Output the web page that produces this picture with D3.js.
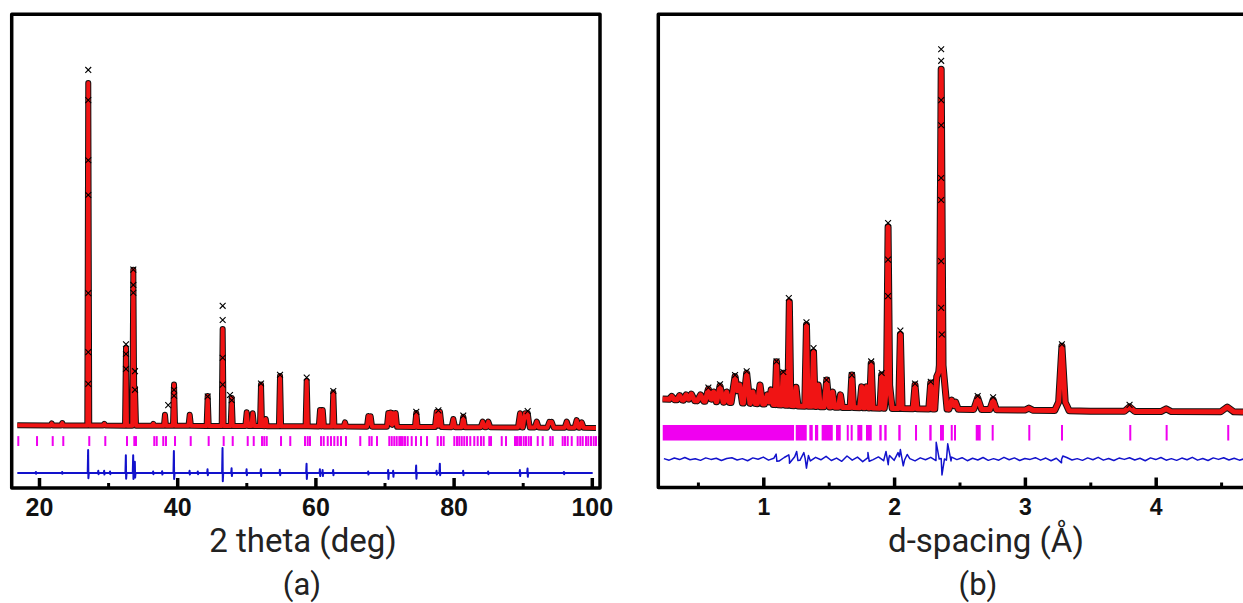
<!DOCTYPE html>
<html>
<head>
<meta charset="utf-8">
<script src="https://cdn.jsdelivr.net/npm/d3@7/dist/d3.min.js"></script>
<style>
  body { margin: 0; background: #fff; }
  svg { display: block; }
  .tick-label { font-family: "Liberation Sans", Arial, sans-serif; font-weight: bold; }
  .title { font-family: Roboto, "Open Sans", sans-serif; fill: #222; }
</style>
</head>
<body>
<svg id="chart" width="1243" height="603"></svg>
<script>
const
  RED = '#f01414',
  BLUE = '#1212cc',
  MAGENTA = '#f000f0',
  DIFF_OFFSET_A = -800,
  DIFF_OFFSET_B = -790;

// ---------- (a) 2 theta scan, intensity in counts ----------
const bgA = [[16.86, 480], [50, 460], [80, 430], [100.6, 410]];

// [2theta, calculated top, half width]
const peaksA = [
  [21.84, 530, 0.15], [23.37, 540, 0.15], [27.13, 9650, 0.14], [29.45, 520, 0.15],
  [32.59, 2550, 0.14], [33.65, 4650, 0.15], [33.89, 1480, 0.15], [36.54, 520, 0.15],
  [38.23, 760, 0.15], [39.54, 1570, 0.15], [41.81, 760, 0.18], [44.41, 1265, 0.15],
  [46.58, 3060, 0.14], [47.89, 1210, 0.15], [50.06, 830, 0.2], [50.93, 800, 0.2],
  [52.13, 1570, 0.15], [52.81, 650, 0.15], [54.88, 1800, 0.16], [58.74, 1665, 0.16],
  [60.67, 890, 0.18], [61.06, 890, 0.18], [62.59, 1360, 0.16], [64.28, 560, 0.2],
  [67.66, 730, 0.2], [68.0, 720, 0.2], [70.55, 810, 0.2], [70.9, 820, 0.2],
  [71.27, 800, 0.2], [71.62, 810, 0.2], [74.6, 810, 0.2], [77.55, 840, 0.25],
  [78.03, 840, 0.25], [79.96, 650, 0.25], [81.40, 710, 0.25], [84.21, 580, 0.3],
  [85.02, 580, 0.3], [89.61, 800, 0.3], [90.33, 800, 0.3], [90.72, 810, 0.3],
  [92.03, 580, 0.3], [93.85, 570, 0.3], [94.20, 570, 0.3], [96.37, 580, 0.3],
  [97.81, 620, 0.3], [98.54, 560, 0.3]
];

// observed points drawn as crosses, [2theta, counts]
const obsA = [
  [27.13, 10000], [27.13, 9190], [27.13, 7580], [27.13, 6650], [27.13, 4020], [27.13, 2440], [27.13, 1590],
  [32.59, 2650], [32.59, 2390], [32.59, 1990],
  [33.65, 4650], [33.65, 4240], [33.65, 4030], [33.89, 1930], [33.89, 1430],
  [38.7, 1020], [39.54, 1430], [39.54, 1270], [44.41, 1250],
  [46.58, 3680], [46.58, 3300], [46.58, 2290], [46.58, 1570],
  [47.64, 1290], [47.89, 1150], [52.13, 1600], [54.88, 1830], [58.74, 1760],
  [62.59, 1400], [74.6, 840], [77.8, 880], [81.4, 740], [90.72, 860]
];

// reflection positions (2theta)
const reflA = [
  16.86, 19.57, 21.84, 23.37, 27.13, 29.45, 32.59, 33.65, 33.89, 36.54, 36.89, 37.84, 38.23,
  39.54, 41.81, 44.41, 46.58, 47.89, 50.06, 50.93, 52.13, 52.46, 52.81, 54.88, 56.22, 58.35,
  58.74, 59.07, 60.67, 61.06, 61.64, 62.11, 62.59, 63.08, 63.56, 64.28, 66.35, 67.66, 68.00,
  68.77, 70.55, 70.90, 71.27, 71.62, 72.00, 72.24, 72.49, 72.82, 73.21, 73.79, 74.41, 75.14,
  76.01, 77.55, 78.03, 78.42, 79.96, 80.35, 80.68, 81.03, 81.40, 81.79, 82.27, 82.85, 83.34,
  83.82, 84.21, 85.02, 85.27, 86.82, 87.44, 88.74, 89.03, 89.36, 89.61, 90.00, 90.33, 90.72,
  91.06, 92.03, 92.75, 93.85, 94.20, 95.64, 95.98, 96.37, 96.95, 97.81, 98.19, 98.54, 99.02,
  99.35, 99.74, 100.13, 100.46, 100.94
];

// difference spikes, [2theta, up, down]
const diffA = [
  [19.57, 30, 20], [23.37, 30, 20], [27.13, 620, 140], [28.6, 60, 30], [29.45, 60, 40],
  [30.3, 40, 30], [32.59, 480, 150], [33.65, 480, 160], [33.89, 300, 120], [36.54, 40, 30],
  [37.84, 50, 40], [39.54, 590, 160], [41.81, 60, 40], [43.0, 40, 30], [44.41, 100, 60],
  [46.58, 670, 220], [47.89, 130, 80], [50.06, 100, 60], [52.13, 100, 80], [54.88, 90, 60],
  [58.74, 250, 160], [60.67, 100, 80], [61.06, 80, 80], [62.59, 80, 60], [67.66, 40, 40],
  [70.55, 80, 160], [71.27, 60, 100], [74.6, 200, 150], [77.55, 60, 40], [78.03, 250, 60],
  [81.40, 60, 60], [85.02, 40, 30], [89.61, 80, 80], [90.72, 120, 100], [95.98, 30, 30]
];
const diffRangeA = [16.86, 100.13];

const xTicksA = [20, 40, 60, 80, 100];
const xMinorA = [30, 50, 70, 90];

// ---------- (b) d-spacing, intensity in counts ----------
const bgB = [
  [0.23, 790], [0.5, 740], [0.8, 690], [1.0, 660], [1.25, 610], [1.6, 570],
  [2.0, 540], [2.5, 520], [3.0, 500], [3.5, 470], [4.0, 460], [4.75, 450]
];

// [d, calculated top, half width]
const peaksB = [
  [0.30, 860, 0.02], [0.36, 880, 0.02], [0.41, 900, 0.02], [0.45, 920, 0.025], [0.52, 900, 0.025],
  [0.58, 1050, 0.025], [0.62, 975, 0.02], [0.669, 1130, 0.025], [0.72, 975, 0.02], [0.784, 1380, 0.03],
  [0.82, 1160, 0.02], [0.873, 1470, 0.025], [0.92, 975, 0.02], [0.975, 1160, 0.02], [1.03, 900, 0.02],
  [1.06, 1030, 0.015], [1.101, 1770, 0.012], [1.153, 1470, 0.015], [1.199, 3350, 0.012], [1.25, 1100, 0.015],
  [1.33, 2740, 0.013], [1.384, 2030, 0.013], [1.42, 1160, 0.015], [1.485, 1290, 0.02], [1.53, 975, 0.015],
  [1.59, 900, 0.015], [1.677, 1420, 0.013], [1.752, 1110, 0.015], [1.79, 1110, 0.015], [1.825, 1725, 0.013],
  [1.905, 1420, 0.013], [1.954, 5320, 0.012], [1.955, 1500, 0.03], [2.048, 2490, 0.013], [2.16, 1160, 0.015],
  [2.28, 1210, 0.015], [2.326, 1380, 0.015], [2.36, 9470, 0.014], [2.36, 2200, 0.045], [2.44, 760, 0.02],
  [2.47, 710, 0.02], [2.639, 820, 0.03], [2.757, 770, 0.025], [3.03, 550, 0.03], [3.283, 2180, 0.025],
  [3.283, 900, 0.055], [3.80, 580, 0.04], [4.08, 530, 0.04], [4.547, 580, 0.05]
];

const obsB = [
  [2.36, 10000], [2.36, 9695], [2.36, 8660], [2.36, 8000], [2.36, 6610], [2.36, 6030],
  [2.36, 4420], [2.36, 3190], [2.365, 2490], [1.954, 5424], [1.954, 4460], [1.954, 3500],
  [2.048, 2590], [1.195, 3450], [1.33, 2810], [1.384, 2130], [1.101, 1780], [1.483, 1290],
  [1.677, 1420], [1.825, 1780], [1.905, 1475], [2.16, 1195], [2.28, 1245], [2.639, 870],
  [2.757, 835], [3.283, 2233], [3.80, 635], [0.784, 1420], [0.873, 1520], [0.669, 1180],
  [0.58, 1090], [1.153, 1500]
];

// reflection ranges [d from, d to]
const reflB = [
  [0.231, 1.235], [1.248, 1.332], [1.352, 1.378], [1.395, 1.420], [1.446, 1.531], [1.556, 1.592],
  [1.638, 1.650], [1.668, 1.680], [1.719, 1.757], [1.785, 1.829], [1.887, 1.905], [1.925, 1.943],
  [2.032, 2.050], [2.160, 2.173], [2.269, 2.287], [2.351, 2.381], [2.433, 2.445], [2.458, 2.471],
  [2.624, 2.662], [2.746, 2.758], [3.026, 3.039], [3.276, 3.286], [3.798, 3.811], [4.076, 4.086],
  [4.547, 4.560]
];

// difference: residuals sampled every 0.04 from d = 0.24, plus larger features
const diffBStart = 0.24, diffBStep = 0.04;
const diffBNoise = [
  10, -30, 25, -15, 40, -20, 5, -35, 30, -10,
  20, -40, 15, 35, -25, 10, -45, 30, -5, 50,
  -30, 20, -55, 40, -10, 60, -35, 15, -50, 45,
  -20, 70, -40, 25, -60, 80, -30, 50, -70, 35,
  -15, 55, -45, 20, -35, 60, -25, 10, -50, 30,
  -20, 45, -40, 15, -30, 50, -15, 35, -45, 20,
  -25, 40, -35, 10, -30, 45, -20, 30, -40, 15,
  -10, 35, -30, 25, -45, 20, -15, 40, -25, 10,
  -35, 30, -20, 45, -30, 15, -40, 25, -10, 35,
  -25, 20, -45, 30, -15, 40, -30, 10, -35, 25,
  -20, 45, -30, 15, -40, 30, -10, 35, -25, 20,
  -30, 10, -20
];
const diffBFeatures = [
  [1.098, 130], [1.104, -60], [1.195, 110], [1.20, -110], [1.255, 200], [1.265, -40],
  [1.31, 170], [1.33, -240], [1.345, 90], [1.80, 170], [1.81, -60], [1.938, 200],
  [1.955, -150], [1.965, 90], [2.03, 170], [2.048, 250], [2.07, -180], [2.10, 120],
  [2.322, 440], [2.345, 0], [2.366, -420], [2.385, 0], [2.41, 400], [2.435, -50],
  [3.28, -100], [3.29, 80]
];

const xTicksB = [1, 2, 3, 4];
const xMinorB = [0.5, 1.5, 2.5, 3.5, 4.5];

// ---------- layout ----------
const svg = d3.select('#chart');

const boxA = { left: 11.7, right: 600, top: 14.3, bottom: 488 };
const boxB = { left: 658.3, right: 1262, top: 14.3, bottom: 487.5 };

const xA = d3.scaleLinear().domain([20, 100]).range([39, 591.8]);
const yA = d3.scaleLinear().domain([-1200, 11490]).range([boxA.bottom, boxA.top]);
const xB = d3.scaleLinear().domain([1, 4]).range([763.3, 1155.7]);
const yB = d3.scaleLinear().domain([-1540, 10920]).range([boxB.bottom, boxB.top]);

const crossType = d3.symbolX || {
  draw(ctx, size) {
    const r = Math.sqrt(size) / 2.2;
    ctx.moveTo(-r, -r); ctx.lineTo(r, r);
    ctx.moveTo(-r, r); ctx.lineTo(r, -r);
  }
};

// background through its anchors, each peak a triangle on top of it
function buildProfile(bg, peaks) {
  const bgScale = d3.scaleLinear().domain(bg.map(d => d[0])).range(bg.map(d => d[1])).clamp(true);
  const lo = bg[0][0], hi = bg[bg.length - 1][0];
  const xs = new Set(bg.map(d => d[0]));
  peaks.forEach(([p, , w]) => { xs.add(p - w); xs.add(p); xs.add(p + w); });
  return [...xs].filter(x => x >= lo && x <= hi).sort((a, b) => a - b).map(x => {
    let extra = 0;
    peaks.forEach(([p, top, w]) => {
      const k = 1 - Math.abs(x - p) / w;
      if (k > 0) extra = Math.max(extra, k * (top - bgScale(p)));
    });
    return [x, bgScale(x) + extra];
  });
}

function drawPanel(p) {
  const g = svg.append('g').attr('class', 'panel-' + p.name);

  g.append('clipPath').attr('id', 'clip-' + p.name)
    .append('rect')
    .attr('x', p.box.left).attr('y', p.box.top)
    .attr('width', p.box.right - p.box.left)
    .attr('height', p.box.bottom - p.box.top);

  const plot = g.append('g').attr('clip-path', `url(#clip-${p.name})`);
  const line = d3.line().x(d => p.x(d[0])).y(d => p.y(d[1]));

  // reflection markers
  plot.append('g')
    .selectAll('rect')
    .data(p.refl)
    .join('rect')
    .attr('x', d => p.x(d[0]))
    .attr('width', d => Math.max(2, p.x(d[1]) - p.x(d[0])))
    .attr('y', p.y(p.reflRow[0]))
    .attr('height', p.y(p.reflRow[1]) - p.y(p.reflRow[0]))
    .attr('fill', MAGENTA);

  // difference curve
  plot.append('path')
    .datum(p.diff.map(d => [d[0], d[1] + p.diffOffset]))
    .attr('d', line)
    .attr('fill', 'none')
    .attr('stroke', BLUE)
    .attr('stroke-width', p.diffWidth)
    .attr('stroke-linejoin', 'round');

  // observed (black halo) and calculated (red) profile
  const prof = buildProfile(p.bg, p.peaks);
  plot.append('path')
    .datum(prof)
    .attr('d', line)
    .attr('fill', 'none')
    .attr('stroke', '#111')
    .attr('stroke-width', p.calcWidth + 2)
    .attr('stroke-linejoin', 'round');
  plot.append('path')
    .datum(prof)
    .attr('d', line)
    .attr('fill', 'none')
    .attr('stroke', RED)
    .attr('stroke-width', p.calcWidth)
    .attr('stroke-linejoin', 'round');

  const sym = d3.symbol().type(crossType).size(24);
  plot.append('g')
    .selectAll('path')
    .data(p.obs)
    .join('path')
    .attr('transform', d => `translate(${p.x(d[0])},${p.y(d[1])})`)
    .attr('d', sym)
    .attr('fill', 'none')
    .attr('stroke', '#000')
    .attr('stroke-width', 1.1);

  // frame
  g.append('rect')
    .attr('x', p.box.left).attr('y', p.box.top)
    .attr('width', p.box.right - p.box.left)
    .attr('height', p.box.bottom - p.box.top)
    .attr('fill', 'none')
    .attr('stroke', '#000')
    .attr('stroke-width', 3.5)
    .attr('stroke-linejoin', 'round');

  // axes: inward ticks
  const major = d3.axisBottom(p.x)
    .tickValues(p.ticks)
    .tickSizeInner(-10)
    .tickSizeOuter(0)
    .tickPadding(p.labelPad)
    .tickFormat(d3.format('d'));
  const ax = g.append('g')
    .attr('class', 'axis axis-x')
    .attr('transform', `translate(0,${p.box.bottom})`)
    .call(major);
  ax.select('.domain').remove();
  ax.selectAll('.tick line').attr('stroke', '#000').attr('stroke-width', 3.5);
  ax.selectAll('.tick text')
    .attr('class', 'tick-label')
    .attr('fill', '#111')
    .style('font-size', p.labelSize + 'px');

  const minor = d3.axisBottom(p.x)
    .tickValues(p.minor)
    .tickSizeInner(-5)
    .tickSizeOuter(0);
  const axm = g.append('g')
    .attr('class', 'axis axis-x-minor')
    .attr('transform', `translate(0,${p.box.bottom})`)
    .call(minor);
  axm.select('.domain').remove();
  axm.selectAll('.tick text').remove();
  axm.selectAll('.tick line').attr('stroke', '#000').attr('stroke-width', 3);

  g.append('text')
    .attr('class', 'title')
    .attr('x', p.titleX).attr('y', 552)
    .attr('text-anchor', 'middle')
    .style('font-size', '33px')
    .text(p.title);
  g.append('text')
    .attr('class', 'title')
    .attr('x', p.tagX).attr('y', 595)
    .attr('text-anchor', 'middle')
    .style('font-size', '31px')
    .text(p.tag);
}

const diffPtsA = [[diffRangeA[0], 0], [diffRangeA[1], 0]];
diffA.forEach(([p, up, dn]) => {
  diffPtsA.push([p - 0.08, 0], [p - 0.02, up], [p + 0.02, -dn], [p + 0.08, 0]);
});
diffPtsA.sort((a, b) => a[0] - b[0]);

const diffPtsB = diffBNoise
  .map((v, i) => [diffBStart + i * diffBStep, v])
  .concat(diffBFeatures)
  .sort((a, b) => a[0] - b[0]);

drawPanel({
  name: 'a', box: boxA, x: xA, y: yA,
  bg: bgA, peaks: peaksA, obs: obsA,
  refl: reflA.map(d => [d, d]), reflRow: [190, -75],
  diff: diffPtsA, diffOffset: DIFF_OFFSET_A, diffWidth: 2,
  calcWidth: 4,
  ticks: xTicksA, minor: xMinorA, labelSize: 25, labelPad: 10,
  title: '2 theta (deg)', titleX: 303, tag: '(a)', tagX: 302
});

drawPanel({
  name: 'b', box: boxB, x: xB, y: yB,
  bg: bgB, peaks: peaksB, obs: obsB,
  refl: reflB, reflRow: [106, -303],
  diff: diffPtsB, diffOffset: DIFF_OFFSET_B, diffWidth: 1.5,
  calcWidth: 5,
  ticks: xTicksB, minor: xMinorB, labelSize: 23, labelPad: 11,
  title: 'd-spacing (Å)', titleX: 986, tag: '(b)', tagX: 978
});
</script>
</body>
</html>
